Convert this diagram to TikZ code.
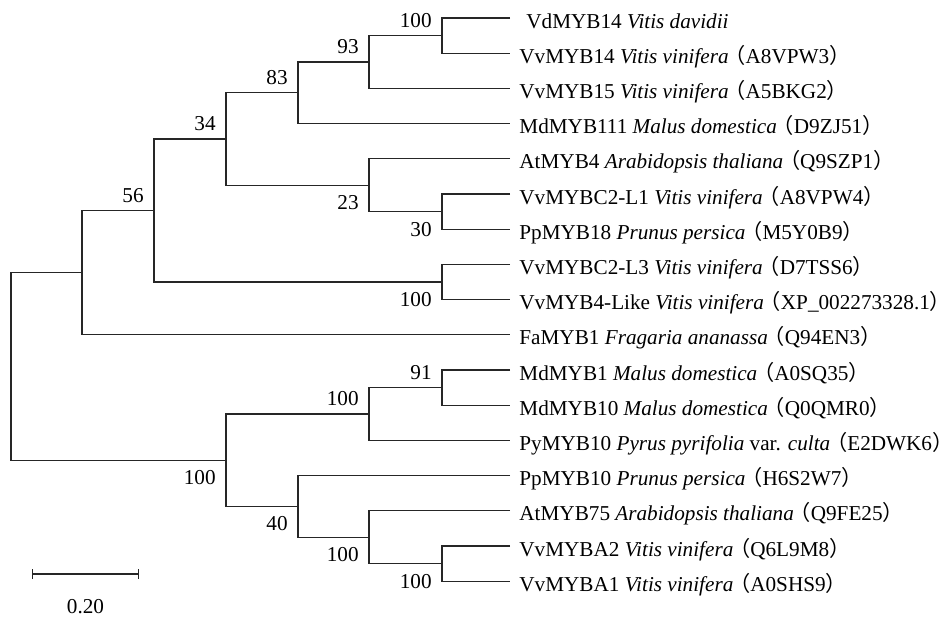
\documentclass[tikz,border=0pt]{standalone}
\usepackage{fontspec}
\setmainfont{Liberation Serif}
\newfontfamily\cjk{Noto Sans CJK SC}
\usetikzlibrary{arrows.meta, positioning}
\newcommand{\fwl}{{\kern-0.2em\cjk （}}
\newcommand{\fwr}{\makebox[0.55em][l]{\cjk ）}}

\begin{document}
\begin{tikzpicture}[
  x=0.5pt, y=-0.5pt,
  font=\fontsize{10.6}{12}\selectfont,
  branch/.style={draw=black!85, line width=0.65pt},
  leaf/.style={anchor=west, inner xsep=4.5pt, inner ysep=0pt, text height=10pt, text depth=0pt},
  bs/.style={inner sep=0pt},
  scalebar/.style={branch, {Bar[width=5pt]}-{Bar[width=5pt]}}
]
  \useasboundingbox (0,0) rectangle (951,618);

  % FEUILLES ==============================
  \node[leaf] (vd14) at (510,18) {\hspace{3.5pt}VdMYB14 \textit{Vitis davidii}};
  \node[leaf] (vv14) at (510,53.2) {VvMYB14 \textit{Vitis vinifera}\fwl A8VPW3\fwr};
  \node[leaf] (vv15) at (510,88.4) {VvMYB15 \textit{Vitis vinifera}\fwl A5BKG2\fwr};
  \node[leaf] (md111) at (510,123.6) {MdMYB111 \textit{Malus domestica}\fwl D9ZJ51\fwr};
  \node[leaf] (at4) at (510,158.8) {AtMYB4 \textit{Arabidopsis thaliana}\fwl Q9SZP1\fwr};
  \node[leaf] (vvc2l1) at (510,194) {VvMYBC2-L1 \textit{Vitis vinifera}\fwl A8VPW4\fwr};
  \node[leaf] (pp18) at (510,229.2) {PpMYB18 \textit{Prunus persica}\fwl M5Y0B9\fwr};
  \node[leaf] (vvc2l3) at (510,264.4) {VvMYBC2-L3 \textit{Vitis vinifera}\fwl D7TSS6\fwr};
  \node[leaf] (vv4l) at (510,299.6) {VvMYB4-Like \textit{Vitis vinifera}\fwl XP\_002273328.1\fwr};
  \node[leaf] (fa1) at (510,334.8) {FaMYB1 \textit{Fragaria ananassa}\fwl Q94EN3\fwr};
  \node[leaf] (md1) at (510,370) {MdMYB1 \textit{Malus domestica}\fwl A0SQ35\fwr};
  \node[leaf] (md10) at (510,405.2) {MdMYB10 \textit{Malus domestica}\fwl Q0QMR0\fwr};
  \node[leaf] (py10) at (510,440.4) {PyMYB10 \textit{Pyrus pyrifolia} var. \textit{culta}\fwl E2DWK6\fwr};
  \node[leaf] (pp10) at (510,475.6) {PpMYB10 \textit{Prunus persica}\fwl H6S2W7\fwr};
  \node[leaf] (at75) at (510,510.8) {AtMYB75 \textit{Arabidopsis thaliana}\fwl Q9FE25\fwr};
  \node[leaf] (vva2) at (510,546) {VvMYBA2 \textit{Vitis vinifera}\fwl Q6L9M8\fwr};
  \node[leaf] (vva1) at (510,581.2) {VvMYBA1 \textit{Vitis vinifera}\fwl A0SHS9\fwr};

  % NOEUDS ================================
  % Clade 1
  \coordinate (nd14) at (442,35.6);
  \coordinate (n93) at (369,62);
  \coordinate (n83) at (298,92.8);
  \coordinate (n30) at (442,211.6);
  \coordinate (n23) at (369,185.2);
  \coordinate (n34) at (226,139);
  \coordinate (nc2) at (442,282);
  \coordinate (n56) at (154,210.5);
  \coordinate (nfa) at (82,272.65);
  % Clade 2
  \coordinate (n91) at (442,387.6);
  \coordinate (npy) at (369,414);
  \coordinate (na) at (442,563.6);
  \coordinate (nat) at (369,537.2);
  \coordinate (n40) at (298,506.4);
  \coordinate (nros) at (226,460.2);
  % Racine
  \coordinate (root) at (11,366.4);

  % Branches
  \draw[branch] (vd14.west) -| (nd14) |- (vv14.west);
  \draw[branch] (nd14) -| (n93) |- (vv15.west);
  \draw[branch] (n93) -| (n83) |- (md111.west);
  \draw[branch] (vvc2l1.west) -| (n30) |- (pp18.west);
  \draw[branch] (at4.west) -| (n23) |- (n30);
  \draw[branch] (n83) -| (n34) |- (n23);
  \draw[branch] (vvc2l3.west) -| (nc2) |- (vv4l.west);
  \draw[branch] (n34) -| (n56) |- (nc2);
  \draw[branch] (n56) -| (nfa) |- (fa1.west);

  \draw[branch] (md1.west) -| (n91) |- (md10.west);
  \draw[branch] (n91) -| (npy) |- (py10.west);
  \draw[branch] (vva2.west) -| (na) |- (vva1.west);
  \draw[branch] (at75.west) -| (nat) |- (na);
  \draw[branch] (pp10.west) -| (n40) |- (nat);
  \draw[branch] (npy) -| (nros) |- (n40);

  \draw[branch] (nfa) -| (root) |- (nros);

  % Valeurs bootstrap
  \node[bs, above left=3.75pt and 5pt of nd14] (bd14) {100};
  \node[bs, above left=3.75pt and 5pt of n93] (b93) {93};
  \node[bs, above left=3.75pt and 5pt of n83] (b83) {83};
  \node[bs, above left=3.75pt and 5pt of n34] (b34) {34};
  \node[bs, above left=3.75pt and 5pt of n56] (b56) {56};
  \node[bs, below left=5pt and 5pt of n23] (b23) {23};
  \node[bs, below left=5pt and 5pt of n30] (b30) {30};
  \node[bs, below left=5pt and 5pt of nc2] (bc2) {100};
  \node[bs, above left=3.75pt and 5pt of n91] (b91) {91};
  \node[bs, above left=3.75pt and 5pt of npy] (bpy) {100};
  \node[bs, below left=5pt and 5pt of nros] (bros) {100};
  \node[bs, below left=5pt and 5pt of n40] (b40) {40};
  \node[bs, below left=5pt and 5pt of nat] (bat) {100};
  \node[bs, below left=5pt and 5pt of na] (ba) {100};

  % Echelle
  \coordinate (sbl) at (32,574);
  \coordinate (sbr) at (139,574);
  \draw[scalebar] (sbl) -- (sbr);
  \node[bs] (sbt) at (85.5,607) {0.20};

\end{tikzpicture}
\end{document}
